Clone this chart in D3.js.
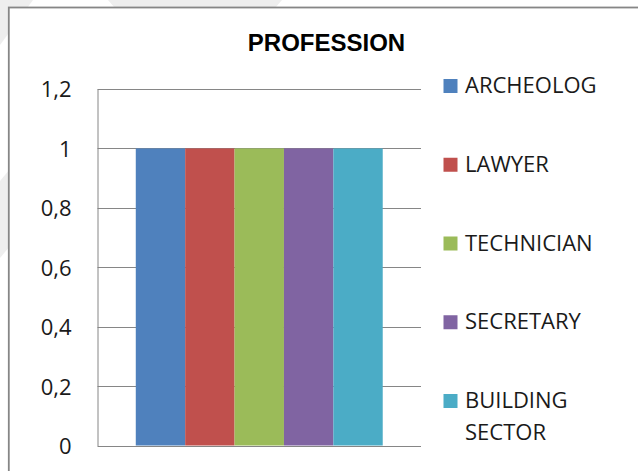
<!DOCTYPE html>
<html>
<head>
<meta charset="utf-8">
<script src="https://cdn.jsdelivr.net/npm/d3@7"></script>
<style>
  body { margin: 0; background: #fff; }
  .tick text { font-family: "Open Sans", sans-serif; font-size: 22px; fill: #1a1a1a; }
  .legend text { font-family: "Open Sans", sans-serif; font-size: 22px; fill: #1a1a1a; }
</style>
</head>
<body>
<script>
// chart data
var categories = ['PROFESSION'];
var series = ['ARCHEOLOG', 'LAWYER', 'TECHNICIAN', 'SECRETARY', 'BUILDING SECTOR'];
var values = [1, 1, 1, 1, 1];
var colors = ['#4F81BD', '#C0504D', '#9BBB59', '#8064A2', '#4BACC6'];
var yTicks = [0, 0.2, 0.4, 0.6, 0.8, 1, 1.2];

var w = 638, h = 471;
var plot = {left: 97.5, right: 421, top: 89, bottom: 445.5};

var svg = d3.select("body").append("svg")
  .attr("width", w)
  .attr("height", h);

// faint page watermark showing around the frame
svg.append("rect").attr("width", w).attr("height", h).attr("fill", "#fff");
var bgShapes = [
  [[0, 0], [33, 0], [0, 45]],
  [[108, 0], [282, 0], [230, 60], [160, 60]],
  [[0, 181], [10, 169], [10, 246], [0, 258]]
];
svg.selectAll(".bg")
  .data(bgShapes)
  .enter().append("polygon")
  .attr("class", "bg")
  .attr("points", function(d) { return d.map(function(p) { return p.join(","); }).join(" "); })
  .attr("fill", "#eeeeee");

// chart frame
svg.append("rect")
  .attr("x", 8.8).attr("y", 7.5)
  .attr("width", 700).attr("height", 500)
  .attr("fill", "#fff")
  .attr("stroke", "#868686")
  .attr("stroke-width", 1.8);

// title
svg.append("text")
  .attr("x", 326.5).attr("y", 51)
  .attr("text-anchor", "middle")
  .style("font-family", "'Liberation Sans', Arial, sans-serif")
  .style("font-weight", "bold")
  .style("font-size", "24px")
  .text(categories[0]);

var locale = d3.formatLocale({decimal: ",", thousands: ".", grouping: [3], currency: ["", ""]});
var fmt = locale.format("~g");

var y = d3.scaleLinear()
  .domain([0, 1.2])
  .range([plot.bottom, plot.top]);

var x = d3.scaleBand()
  .domain(series)
  .range([plot.left, plot.right])
  .paddingInner(0)
  .paddingOuter(0.775);

// gridlines
svg.selectAll(".grid")
  .data(yTicks)
  .enter().append("line")
  .attr("class", "grid")
  .attr("x1", plot.left).attr("x2", plot.right)
  .attr("y1", function(d) { return Math.round(y(d)) + 0.5; })
  .attr("y2", function(d) { return Math.round(y(d)) + 0.5; })
  .attr("stroke", "#868686")
  .attr("stroke-width", 1);

// bars
svg.selectAll(".bar")
  .data(series)
  .enter().append("rect")
  .attr("class", "bar")
  .attr("x", function(d) { return x(d); })
  .attr("width", x.bandwidth())
  .attr("y", function(d, i) { return y(values[i]); })
  .attr("height", function(d, i) { return y(0) - y(values[i]); })
  .attr("fill", function(d, i) { return colors[i]; });

// y axis
var yAxis = d3.axisLeft(y)
  .tickValues(yTicks)
  .tickFormat(fmt)
  .tickSize(0)
  .tickPadding(26);

var gy = svg.append("g")
  .attr("transform", "translate(" + plot.left + ",0)")
  .call(yAxis);
gy.select(".domain").attr("stroke", "#868686");
gy.selectAll(".tick text").attr("dy", "0.36em");

// legend
var ly = d3.scaleLinear().domain([0, series.length - 1]).range([93, 408]);
var legend = svg.selectAll(".legend")
  .data(series)
  .enter().append("g")
  .attr("class", "legend")
  .attr("transform", function(d, i) { return "translate(443.5," + ly(i) + ")"; });

legend.append("rect")
  .attr("x", 0).attr("y", -14)
  .attr("width", 14).attr("height", 14)
  .attr("fill", function(d, i) { return colors[i]; });

legend.append("text")
  .attr("x", 21.5)
  .selectAll("tspan")
  .data(function(d) { return d.split(" "); })
  .enter().append("tspan")
  .attr("x", 21.5)
  .attr("y", function(d, i) { return i * 32; })
  .text(function(d) { return d; });
</script>
</body>
</html>
